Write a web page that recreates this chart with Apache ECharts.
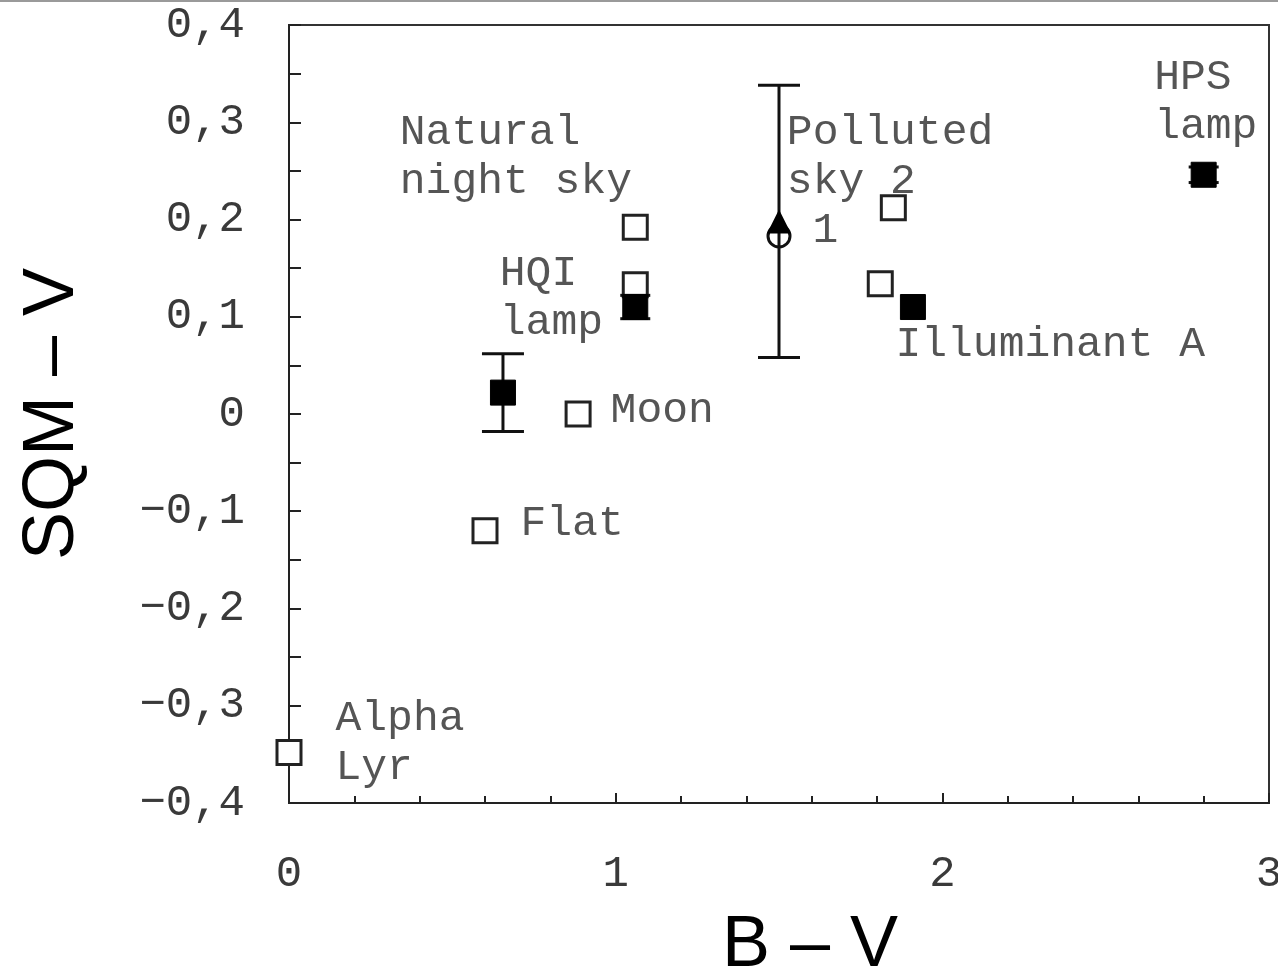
<!DOCTYPE html>
<html>
<head>
<meta charset="utf-8">
<script src="https://cdn.jsdelivr.net/npm/echarts@6/dist/echarts.min.js"></script>
<style>html,body{margin:0;padding:0;background:#fff;overflow:hidden}#c{width:1278px;height:975px}</style>
</head>
<body>
<div id="c"></div>
<script>
// ---- data ----
const hollowX = [0.0, 0.60, 0.885, 1.06, 1.06, 1.85, 1.81];
const hollowY = [-0.348, -0.120, 0.000, 0.192, 0.133, 0.212, 0.134];
const filledX = [0.655, 1.06, 1.91, 2.80];
const filledY = [0.022, 0.110, 0.110, 0.246];
const filledErr = [0.040, 0.012, 0.0, 0.008];
const triangleX = [1.50];
const triangleY = [0.198];
const triangleErr = [0.140];
const circleX = [1.50];
const circleY = [0.183];
const labelTexts = ['Alpha\nLyr', 'Flat', 'Moon', 'Natural\nnight sky', 'HQI\nlamp', 'Polluted\nsky 2', '1', 'Illuminant A', 'HPS\nlamp'];
const xTicks = ['0', '1', '2', '3'];

// label anchors refer to points above
const labelAnchorX = [hollowX[0], hollowX[1], hollowX[2], hollowX[3], filledX[1], hollowX[5], circleX[0], filledX[2], filledX[3]];
const labelAnchorY = [hollowY[0], hollowY[1], hollowY[2], hollowY[3], filledY[1], hollowY[5], circleY[0], filledY[2], filledY[3]];
// style: pixel offsets of labels from their anchor
const labelOffsets = [[46, -9], [35, -7], [32, -3], [-236, -70], [-136, -9], [-107, -51], [33, -5], [-18, 38], [-50, -73]];

const errData = [];
filledX.forEach((x, i) => { if (filledErr[i] > 0) errData.push([x, filledY[i], filledErr[i]]); });
triangleX.forEach((x, i) => errData.push([x, triangleY[i], triangleErr[i]]));

const monoFont = "'Liberation Mono', 'DejaVu Sans Mono', monospace";
const sansFont = "'Liberation Sans', Arial, sans-serif";

function fmtY(v) {
  const r = Math.round(v * 10) / 10;
  if (r === 0) return '0';
  return r.toFixed(1).replace('.', ',').replace('-', '\u2212');
}

const chart = echarts.init(document.getElementById('c'));
chart.setOption({
  animation: false,
  backgroundColor: '#fff',
  graphic: [{ type: 'rect', shape: { x: 0, y: 0, width: 1278, height: 2 }, style: { fill: '#9a9a9a' } }],
  grid: { left: 289, right: 9, top: 25, bottom: 172, containLabel: false, outerBoundsMode: 'none',
    show: true, borderColor: '#333', borderWidth: 2, backgroundColor: 'transparent' },
  xAxis: {
    type: 'value', min: 0, max: 3, interval: 1,
    name: 'B \u2013 V', nameLocation: 'middle', nameGap: 107,
    nameTextStyle: { fontFamily: sansFont, fontSize: 72, color: '#000', padding: [0, 0, 0, 62] },
    axisLine: { show: true, onZero: false, lineStyle: { color: '#222', width: 2 } },
    axisTick: { show: true, inside: true, length: 10, lineStyle: { color: '#222', width: 2 } },
    minorTick: { show: true, splitNumber: 5, length: 7, lineStyle: { color: '#222', width: 2 } },
    splitLine: { show: false }, minorSplitLine: { show: false },
    axisLabel: { margin: 49, fontFamily: monoFont, fontSize: 44, color: '#3a3a3a', formatter: v => xTicks[Math.round(v)] }
  },
  yAxis: {
    type: 'value', min: -0.4, max: 0.4, interval: 0.1,
    name: 'SQM \u2013 V', nameLocation: 'middle', nameGap: 200, nameRotate: 90,
    nameTextStyle: { fontFamily: sansFont, fontSize: 72, color: '#000' },
    axisLine: { show: true, onZero: false, lineStyle: { color: '#222', width: 2 } },
    axisTick: { show: true, inside: true, length: 12, lineStyle: { color: '#222', width: 2 } },
    minorTick: { show: true, splitNumber: 2, length: 12, lineStyle: { color: '#222', width: 2 } },
    splitLine: { show: false }, minorSplitLine: { show: false },
    axisLabel: { margin: 44, fontFamily: monoFont, fontSize: 44, color: '#3a3a3a', formatter: fmtY }
  },
  series: [
    {
      name: 'open', type: 'scatter', clip: false, symbol: 'rect', symbolSize: 24, z: 2,
      itemStyle: { color: '#fff', borderColor: '#222', borderWidth: 3, opacity: 1 },
      data: hollowX.map((x, i) => [x, hollowY[i]])
    },
    {
      name: 'circle', type: 'scatter', clip: false, symbol: 'circle', symbolSize: 22, z: 3,
      itemStyle: { color: 'transparent', borderColor: '#111', borderWidth: 3, opacity: 1 },
      data: circleX.map((x, i) => [x, circleY[i]])
    },
    {
      name: 'errors', type: 'custom', clip: false, z: 4,
      renderItem: function (params, api) {
        const x = api.value(0), y = api.value(1), e = api.value(2);
        const t = api.coord([x, y + e]), b = api.coord([x, y - e]);
        const h = e < 0.02 ? 15 : 21;
        const st = { stroke: '#111', lineWidth: 3 };
        return { type: 'group', children: [
          { type: 'line', shape: { x1: t[0], y1: t[1], x2: b[0], y2: b[1] }, style: st },
          { type: 'line', shape: { x1: t[0] - h, y1: t[1], x2: t[0] + h, y2: t[1] }, style: st },
          { type: 'line', shape: { x1: b[0] - h, y1: b[1], x2: b[0] + h, y2: b[1] }, style: st }
        ] };
      },
      data: errData
    },
    {
      name: 'filled', type: 'scatter', clip: false, symbol: 'rect', symbolSize: 25, z: 5,
      itemStyle: { color: '#000', borderColor: '#000', borderWidth: 1, opacity: 1 },
      data: filledX.map((x, i) => [x, filledY[i]])
    },
    {
      name: 'triangle', type: 'scatter', clip: false, symbol: 'triangle', symbolSize: 24, z: 5,
      itemStyle: { color: '#000', opacity: 1 },
      data: triangleX.map((x, i) => [x, triangleY[i]])
    },
    {
      name: 'labels', type: 'scatter', clip: false, symbol: 'rect', symbolSize: 1, z: 6, silent: true,
      itemStyle: { color: 'transparent', opacity: 1 },
      label: { show: true, position: 'right', distance: 0, align: 'left', verticalAlign: 'middle',
        fontFamily: monoFont, fontSize: 43, lineHeight: 49, color: '#555' },
      data: labelTexts.map((t, i) => ({ value: [labelAnchorX[i], labelAnchorY[i]], label: { formatter: t, offset: labelOffsets[i] } }))
    }
  ]
});
</script>
</body>
</html>
